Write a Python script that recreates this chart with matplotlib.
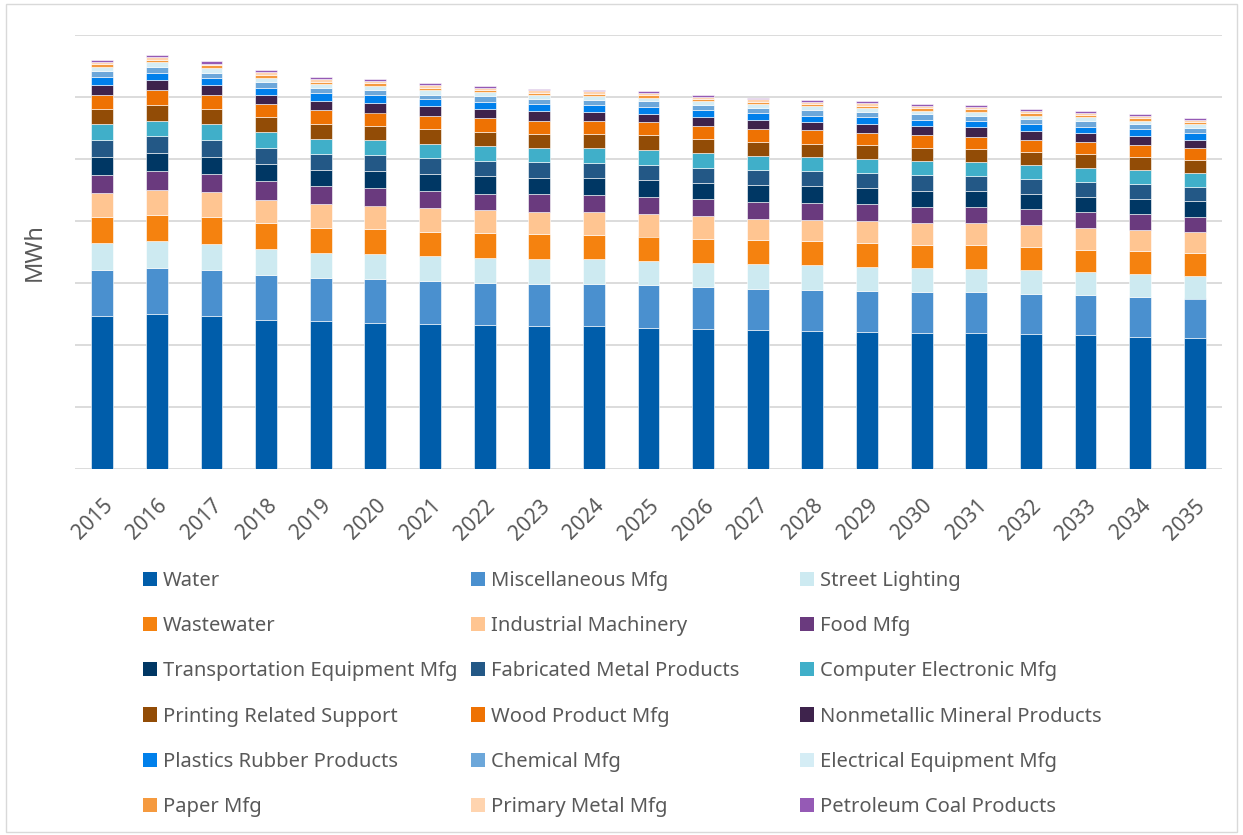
import numpy as np
import matplotlib
matplotlib.use("Agg")
import matplotlib.pyplot as plt
from matplotlib.patches import Patch, Rectangle

plt.rcParams['font.family'] = ['Noto Sans', 'DejaVu Sans']

years = [str(y) for y in range(2015, 2036)]

# values (one gridline step = 100)
water = [247, 250, 247, 241, 238, 236, 234, 232, 231, 230, 228, 226, 225, 223, 221, 220, 220, 218, 216, 213, 212]
misc_mfg = [74, 74, 74, 72, 70, 70, 69, 68, 68, 69, 68, 68, 66, 66, 66, 66, 65, 65, 64, 65, 63]
street_lighting = [43, 44, 42, 42, 41, 41, 41, 41, 40, 40, 40, 39, 40, 40, 39, 38, 38, 38, 38, 37, 37]
wastewater = [42, 42, 43, 41, 40, 40, 39, 39, 40, 39, 39, 38, 38, 38, 38, 37, 38, 37, 36, 36, 36]
industrial_machinery = [39, 40, 40, 38, 38, 38, 38, 37, 36, 36, 37, 37, 35, 35, 36, 36, 35, 35, 35, 34, 34]
food_mfg = [30, 30, 30, 30, 29, 29, 27, 27, 28, 28, 27, 27, 27, 27, 27, 26, 26, 26, 26, 26, 25]
transportation = [28, 30, 28, 28, 27, 27, 28, 28, 27, 27, 27, 26, 27, 27, 26, 26, 26, 25, 24, 25, 25]
fabricated_metal = [27, 27, 27, 26, 25, 25, 25, 25, 25, 24, 24, 25, 24, 24, 24, 25, 24, 24, 24, 24, 23]
computer_electronic = [26, 25, 25, 25, 25, 24, 24, 24, 23, 24, 24, 23, 23, 23, 23, 23, 23, 22, 23, 22, 22]
printing = [25, 25, 25, 25, 24, 24, 23, 23, 23, 23, 24, 23, 23, 22, 22, 21, 21, 21, 22, 21, 21]
wood_product = [23, 24, 23, 21, 22, 21, 22, 22, 21, 21, 21, 21, 20, 21, 20, 20, 20, 20, 20, 20, 19]
nonmetallic = [16, 16, 15, 15, 15, 16, 15, 15, 15, 15, 14, 15, 15, 14, 14, 15, 15, 14, 14, 14, 14]
plastics_rubber = [12, 12, 11, 11, 12, 12, 11, 11, 11, 11, 11, 11, 11, 10, 11, 10, 10, 11, 10, 11, 11]
chemical_mfg = [10, 9, 9, 10, 8, 8, 8, 9, 9, 8, 9, 8, 8, 9, 9, 9, 9, 8, 9, 8, 8]
electrical_equipment = [6, 8, 7, 6, 7, 7, 7, 7, 6, 6, 6, 6, 6, 6, 6, 6, 6, 6, 6, 6, 6]
paper_mfg = [5, 4, 5, 5, 4, 4, 4, 4, 4, 4, 4, 4, 4, 3, 4, 4, 4, 4, 4, 4, 4]
primary_metal = [4, 4, 3, 4, 4, 4, 4, 3, 4, 4, 3, 3, 4, 4, 4, 3, 4, 4, 3, 3, 3]
petroleum_coal = [2, 4, 4, 3, 3, 3, 3, 3, 2, 3, 3, 3, 3, 3, 3, 3, 3, 3, 3, 3, 3]

series = [
    ("Water", water, "#005DAA"),
    ("Miscellaneous Mfg", misc_mfg, "#4A90CF"),
    ("Street Lighting", street_lighting, "#CDEAF1"),
    ("Wastewater", wastewater, "#F5820F"),
    ("Industrial Machinery", industrial_machinery, "#FFC591"),
    ("Food Mfg", food_mfg, "#6A3A7E"),
    ("Transportation Equipment Mfg", transportation, "#003764"),
    ("Fabricated Metal Products", fabricated_metal, "#235886"),
    ("Computer Electronic Mfg", computer_electronic, "#40AFC9"),
    ("Printing Related Support", printing, "#924C06"),
    ("Wood Product Mfg", wood_product, "#EE7203"),
    ("Nonmetallic Mineral Products", nonmetallic, "#3E234C"),
    ("Plastics Rubber Products", plastics_rubber, "#0080EB"),
    ("Chemical Mfg", chemical_mfg, "#6CA7DA"),
    ("Electrical Equipment Mfg", electrical_equipment, "#D5EDF5"),
    ("Paper Mfg", paper_mfg, "#F59A3F"),
    ("Primary Metal Mfg", primary_metal, "#FFD4AF"),
    ("Petroleum Coal Products", petroleum_coal, "#955AB5"),
]

W, H = 1243, 835
fig = plt.figure(figsize=(W / 100, H / 100), dpi=100)
ax = fig.add_axes([75 / W, 1 - 469 / H, 1147 / W, 434 / H])

x = np.arange(len(years))
bottom = np.zeros(len(years))
for name, vals, col in series:
    ax.bar(x, vals, 0.4, bottom=bottom, color=col, edgecolor='white', linewidth=0.4, label=name, zorder=3)
    bottom += np.array(vals)

ax.set_xlim(-0.5, len(years) - 0.5)
ax.set_ylim(0, 700)
ax.set_yticks(np.arange(0, 701, 100))
ax.yaxis.grid(True, color='#D9D9D9', linewidth=1.3, zorder=0)
ax.tick_params(axis='y', length=0, labelleft=False)
ax.tick_params(axis='x', length=0, pad=19)
ax.set_xticks(x)
ax.set_xticklabels(years, rotation=45, ha='right', rotation_mode='anchor', fontsize=15, color='#595959')
for s in ax.spines.values():
    s.set_visible(False)
ax.set_ylabel("MWh", fontsize=17, color='#595959', labelpad=20)

# legend: three equal-width columns, row-major order
handles = [Patch(facecolor=c, edgecolor='none') for _, _, c in series]
labels = [n for n, _, _ in series]
col_x = [143, 471, 800]
for c in range(3):
    idx = list(range(c, len(series), 3))
    fig.legend([handles[i] for i in idx], [labels[i] for i in idx],
               loc='upper left', bbox_to_anchor=(col_x[c] / W, 1 - 571 / H),
               frameon=False, fontsize=14.5, labelcolor='#595959',
               handlelength=0.7, handleheight=0.7, handletextpad=0.3,
               labelspacing=1.25, borderpad=0, borderaxespad=0)

fig.add_artist(Rectangle((6 / W, 3 / H), 1231 / W, 828 / H, transform=fig.transFigure,
                         fill=False, edgecolor='#D9D9D9', linewidth=1))

fig.savefig("out.png", dpi=100, facecolor='white')
